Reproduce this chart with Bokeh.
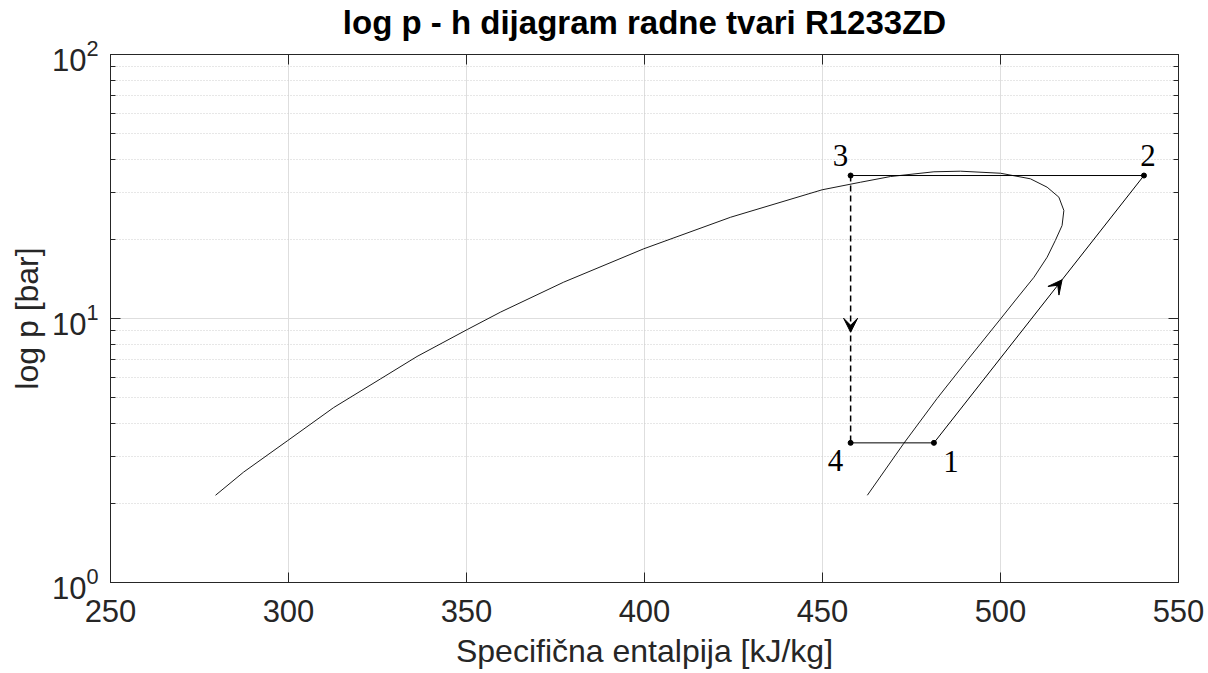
from bokeh.plotting import figure
from bokeh.models import (FixedTicker, LinearAxis, LogAxis, CustomJSTickFormatter,
                          Label, Arrow, VeeHead)
from bokeh.embed import file_html
from bokeh.resources import INLINE

# saturation curve (liquid side -> critical point -> vapour side), h [kJ/kg], p [bar]
sat_h = [279.5, 287.4, 299.8, 312.7, 325.8, 336.1, 350.2, 359.6, 377.3, 399.8,
         424.2, 449.9, 460.7, 469.1, 481.3, 488.8, 500.0, 508.4, 513.1, 516.4,
         517.8, 517.3, 515.4, 513.1, 509.4, 504.7, 500.0, 490.6, 482.2, 472.8, 462.6]
sat_p = [2.14, 2.62, 3.45, 4.60, 5.90, 7.18, 9.08, 10.58, 13.73, 18.37,
         24.19, 30.73, 32.83, 34.5, 35.95, 36.14, 35.5, 33.82, 31.43, 28.81,
         25.66, 22.51, 19.75, 17.07, 14.33, 11.96, 9.96, 6.93, 4.98, 3.36, 2.14]

# cycle state points 1, 2, 3, 4
point_names = ["1", "2", "3", "4"]
cycle_h = [481.3, 540.3, 457.9, 457.9]
cycle_p = [3.38, 34.8, 34.8, 3.38]

# arrow tips (expansion 3->4, compression 1->2)
arrow_h = [457.9, 517.3]
arrow_p = [8.87, 14.02]

x_ticks = [250, 300, 350, 400, 450, 500, 550]
y_ticks = [1, 10, 100]
y_minor = [2, 3, 4, 5, 6, 7, 8, 9, 20, 30, 40, 50, 60, 70, 80, 90]

TITLE = "log p - h dijagram radne tvari R1233ZD"
AX = "#262626"
FONT = "Liberation Sans"

p = figure(width=1206, height=672, x_range=(250, 550), y_range=(1, 100),
           y_axis_type="log", output_backend="svg", toolbar_location=None,
           min_border_left=110, min_border_right=28, min_border_top=54,
           min_border_bottom=90)

p.outline_line_color = AX
p.outline_line_width = 1
p.background_fill_color = "white"
p.border_fill_color = "white"

empty = CustomJSTickFormatter(code="return ''")

# bottom axis
xa = p.xaxis[0]
xa.ticker = FixedTicker(ticks=x_ticks)
xa.major_tick_in = 10
xa.major_tick_out = 0
xa.minor_tick_line_color = None
xa.axis_line_color = AX
xa.major_tick_line_color = AX
xa.major_label_text_font = FONT
xa.major_label_text_font_size = "31px"
xa.major_label_text_color = AX
xa.major_label_standoff = 17
xa.axis_label = "Specifična entalpija [kJ/kg]"
xa.axis_label_text_font = FONT
xa.axis_label_text_font_size = "32px"
xa.axis_label_text_font_style = "normal"
xa.axis_label_text_color = AX
xa.axis_label_standoff = 8

# left axis (default log formatter: 10 with superscript exponent)
ya = p.yaxis[0]
ya.ticker = FixedTicker(ticks=y_ticks, minor_ticks=y_minor)
ya.major_tick_in = 10
ya.major_tick_out = 0
ya.minor_tick_in = 5
ya.minor_tick_out = 0
ya.axis_line_color = AX
ya.major_tick_line_color = AX
ya.minor_tick_line_color = AX
ya.major_label_text_font = FONT
ya.major_label_text_font_size = "31px"
ya.major_label_text_color = AX
ya.major_label_standoff = 12
ya.axis_label = "log p [bar]"
ya.axis_label_text_font = FONT
ya.axis_label_text_font_size = "32px"
ya.axis_label_text_font_style = "normal"
ya.axis_label_text_color = AX
ya.axis_label_standoff = 4

# top axis (ticks only) carrying the chart title
top = LinearAxis(ticker=FixedTicker(ticks=x_ticks), formatter=empty,
                 major_tick_in=10, major_tick_out=0, minor_tick_line_color=None,
                 axis_line_color=AX, major_tick_line_color=AX, major_label_standoff=0,
                 axis_label=TITLE, axis_label_text_font=FONT,
                 axis_label_text_font_style="bold", axis_label_text_font_size="33px",
                 axis_label_text_color="black", axis_label_standoff=14)
p.add_layout(top, "above")
right = LogAxis(ticker=FixedTicker(ticks=y_ticks, minor_ticks=y_minor), formatter=empty,
                major_tick_in=10, major_tick_out=0, minor_tick_in=5, minor_tick_out=0,
                axis_line_color=AX, major_tick_line_color=AX, minor_tick_line_color=AX,
                major_label_standoff=0)
p.add_layout(right, "right")

# grids
p.xgrid.ticker = FixedTicker(ticks=x_ticks)
p.xgrid.grid_line_color = "#dedede"
p.ygrid.ticker = FixedTicker(ticks=y_ticks, minor_ticks=y_minor)
p.ygrid.grid_line_color = "#dedede"
p.ygrid.minor_grid_line_color = "#cfcfcf"
p.ygrid.minor_grid_line_dash = "1 2"

# saturation curve
p.line(sat_h, sat_p, line_color="#1a1a1a", line_width=1)

# cycle
order = [3, 0, 1, 2]
p.line([cycle_h[i] for i in order], [cycle_p[i] for i in order],
       line_color="black", line_width=1)
p.line([cycle_h[2], cycle_h[3]], [cycle_p[2], cycle_p[3]],
       line_color="black", line_width=1.5, line_dash="6 4")
p.scatter(cycle_h, cycle_p, size=5, color="black")

# arrows
p.add_layout(Arrow(end=VeeHead(size=14, fill_color="black", line_color="black", line_width=1),
                   x_start=cycle_h[2], y_start=cycle_p[2],
                   x_end=arrow_h[0], y_end=arrow_p[0], line_alpha=0))
p.add_layout(Arrow(end=VeeHead(size=14, fill_color="black", line_color="black", line_width=1),
                   x_start=cycle_h[0], y_start=cycle_p[0],
                   x_end=arrow_h[1], y_end=arrow_p[1], line_alpha=0))

# state point labels
offsets = {"1": (17, -19), "2": (4, 20), "3": (-10, 20), "4": (-15, -18)}
for name, h, pp in zip(point_names, cycle_h, cycle_p):
    dx, dy = offsets[name]
    p.add_layout(Label(x=h, y=pp, text=name, x_offset=dx, y_offset=dy,
                       text_align="center", text_baseline="middle",
                       text_font="Liberation Serif", text_font_size="31px",
                       text_color="black"))

open("out.html", "w").write(file_html(p, INLINE))
